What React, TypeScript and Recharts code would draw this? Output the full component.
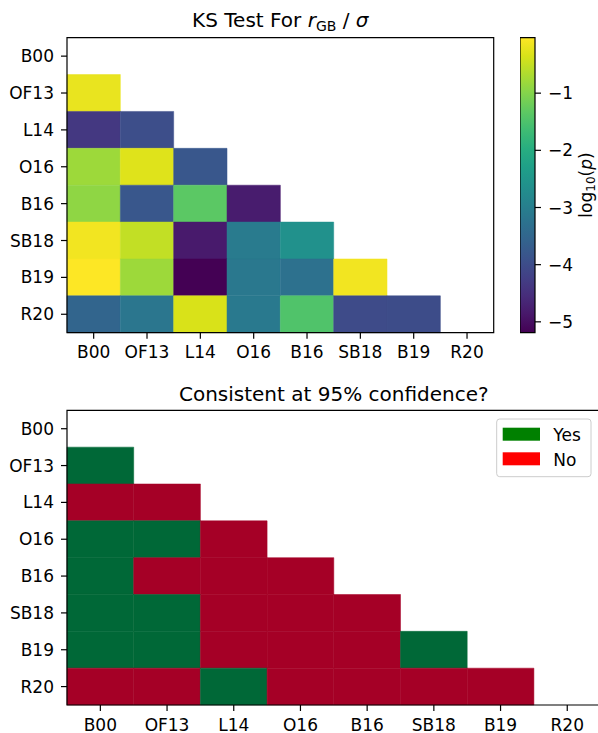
import React from "react";
import { ScatterChart, Scatter, XAxis, YAxis, ReferenceArea } from "recharts";

const labels = ["B00", "OF13", "L14", "O16", "B16", "SB18", "B19", "R20"];

// log10(p) values, lower triangle, row i vs column j (j < i)
const logP: number[][] = [
  [],
  [-0.2],
  [-4.36, -3.98],
  [-0.8, -0.29, -3.8],
  [-0.91, -3.8, -1.35, -4.8],
  [-0.13, -0.52, -4.83, -3.07, -2.61],
  [-0.03, -0.8, -5.19, -3.13, -3.28, -0.13],
  [-3.54, -3.18, -0.34, -3.12, -1.47, -4.03, -4.0],
];

// consistent at 95% confidence? 1 = Yes, 0 = No
const consistent: number[][] = [
  [],
  [1],
  [0, 0],
  [1, 1, 0],
  [1, 0, 0, 0],
  [1, 1, 0, 0, 0],
  [1, 1, 0, 0, 0, 1],
  [0, 0, 1, 0, 0, 0, 0],
];

const cbTicks = [-5, -4, -3, -2, -1];
const cbMin = -5.19;
const cbMax = -0.03;

const legendItems = [
  { label: "Yes", color: "#008000" },
  { label: "No", color: "#ff0000" },
];

const yesColor = "#006837";
const noColor = "#a50026";

const VIRIDIS = [
  "#440154", "#48186a", "#472d7b", "#424086", "#3b528b", "#33638d", "#2c728e", "#26828e",
  "#21918c", "#1fa088", "#28ae80", "#3fbc73", "#5ec962", "#84d44b", "#addc30", "#d8e219", "#fde725",
];

function hexToRgb(h: string) {
  return [parseInt(h.slice(1, 3), 16), parseInt(h.slice(3, 5), 16), parseInt(h.slice(5, 7), 16)];
}
function viridis(t: number) {
  const c = Math.max(0, Math.min(1, t)) * (VIRIDIS.length - 1);
  const i = Math.min(Math.floor(c), VIRIDIS.length - 2);
  const f = c - i;
  const a = hexToRgb(VIRIDIS[i]);
  const b = hexToRgb(VIRIDIS[i + 1]);
  const r = a.map((v, k) => Math.round(v + (b[k] - v) * f));
  return `rgb(${r[0]},${r[1]},${r[2]})`;
}

const idx = labels.map((_, i) => i);

const ksCells = logP.flatMap((row, i) => row.map((v, j) => ({ x: j, y: i, v })));
const consCells = consistent.flatMap((row, i) => row.map((v, j) => ({ x: j, y: i, v })));

const FONT = "'DejaVu Sans', sans-serif";
const tickStyle = { fill: "#000", fontSize: 17, fontFamily: FONT };

function App() {
  return (
    <div style={{ position: "relative", width: 598, height: 733, overflow: "hidden", background: "#fff", fontFamily: FONT }}>
      <style>{"body{margin:0;overflow:hidden}"}</style>

      {/* Top heatmap */}
      <div style={{ position: "absolute", left: 0, top: 0 }}>
        <ScatterChart width={510} height={370} margin={{ top: 37.7, right: 16.3, bottom: 0, left: 0 }}>
          <XAxis
            type="number"
            dataKey="x"
            domain={[-0.5, 7.5]}
            allowDataOverflow
            ticks={idx}
            interval={0}
            tickFormatter={(v: number) => labels[v]}
            height={37.3}
            tickSize={6}
            tickMargin={7}
            tick={tickStyle}
            axisLine={false}
            tickLine={{ stroke: "#000", strokeWidth: 1.2 }}
          />
          <YAxis
            type="number"
            dataKey="y"
            domain={[-0.5, 7.5]}
            allowDataOverflow
            reversed
            ticks={idx}
            interval={0}
            tickFormatter={(v: number) => labels[v]}
            width={67}
            tickSize={6}
            tickMargin={7}
            tick={tickStyle}
            axisLine={false}
            tickLine={{ stroke: "#000", strokeWidth: 1.2 }}
          />
          {ksCells.map((c) => {
            const col = viridis((c.v - cbMin) / (cbMax - cbMin));
            return (
              <ReferenceArea
                key={`k${c.x}-${c.y}`}
                x1={c.x - 0.5}
                x2={c.x + 0.5}
                y1={c.y - 0.5}
                y2={c.y + 0.5}
                fill={col}
                fillOpacity={1}
                stroke={col}
                strokeWidth={0.5}
              />
            );
          })}
          <ReferenceArea x1={-0.5} x2={7.5} y1={-0.5} y2={7.5} fill="none" fillOpacity={0} stroke="#000" strokeWidth={1.2} />
          <Scatter data={ksCells} isAnimationActive={false} shape={() => <g />} />
        </ScatterChart>
      </div>

      {/* Colorbar */}
      <div style={{ position: "absolute", left: 520, top: 0 }}>
        <ScatterChart width={75} height={370} margin={{ top: 37.7, right: 0, bottom: 37.3, left: 0 }}>
          <defs>
            <linearGradient id="viridisGrad" x1="0" y1="1" x2="0" y2="0">
              {VIRIDIS.map((c, i) => (
                <stop key={i} offset={`${(i / (VIRIDIS.length - 1)) * 100}%`} stopColor={c} />
              ))}
            </linearGradient>
          </defs>
          <XAxis type="number" dataKey="x" domain={[0, 1]} hide allowDataOverflow />
          <YAxis
            type="number"
            dataKey="y"
            orientation="right"
            domain={[cbMin, cbMax]}
            allowDataOverflow
            ticks={cbTicks}
            interval={0}
            tickFormatter={(v: number) => `\u2212${Math.abs(v)}`}
            width={60}
            tickSize={6}
            tickMargin={7}
            tick={tickStyle}
            axisLine={false}
            tickLine={{ stroke: "#000", strokeWidth: 1.2 }}
          />
          <ReferenceArea x1={0} x2={1} y1={cbMin} y2={cbMax} fill="url(#viridisGrad)" fillOpacity={1} stroke="#000" strokeWidth={1.2} />
          <Scatter data={cbTicks.map((t) => ({ x: 0.5, y: t }))} isAnimationActive={false} shape={() => <g />} />
        </ScatterChart>
      </div>

      {/* Bottom heatmap */}
      <div style={{ position: "absolute", left: 0, top: 380 }}>
        <ScatterChart width={620} height={353} margin={{ top: 30.3, right: 19.4, bottom: 0, left: 0 }}>
          <XAxis
            type="number"
            dataKey="x"
            domain={[-0.5, 7.5]}
            allowDataOverflow
            ticks={idx}
            interval={0}
            tickFormatter={(v: number) => labels[v]}
            height={28}
            tickSize={6}
            tickMargin={7.5}
            tick={tickStyle}
            axisLine={false}
            tickLine={{ stroke: "#000", strokeWidth: 1.2 }}
          />
          <YAxis
            type="number"
            dataKey="y"
            domain={[-0.5, 7.5]}
            allowDataOverflow
            reversed
            ticks={idx}
            interval={0}
            tickFormatter={(v: number) => labels[v]}
            width={67}
            tickSize={6}
            tickMargin={7}
            tick={tickStyle}
            axisLine={false}
            tickLine={{ stroke: "#000", strokeWidth: 1.2 }}
          />
          {consCells.map((c) => {
            const col = c.v ? yesColor : noColor;
            return (
              <ReferenceArea
                key={`c${c.x}-${c.y}`}
                x1={c.x - 0.5}
                x2={c.x + 0.5}
                y1={c.y - 0.5}
                y2={c.y + 0.5}
                fill={col}
                fillOpacity={1}
                stroke={col}
                strokeWidth={0.5}
              />
            );
          })}
          <ReferenceArea x1={-0.5} x2={7.5} y1={-0.5} y2={7.5} fill="none" fillOpacity={0} stroke="#000" strokeWidth={1.2} />
          <Scatter data={consCells} isAnimationActive={false} shape={() => <g />} />
        </ScatterChart>
      </div>

      {/* Titles, colorbar label, legend */}
      <svg
        width={598}
        height={733}
        style={{ position: "absolute", left: 0, top: 0, pointerEvents: "none" }}
        fontFamily={FONT}
      >
        <text x={280.3} y={26.7} textAnchor="middle" fontSize={20} fill="#000">
          <tspan>KS Test For </tspan>
          <tspan fontStyle="italic">r</tspan>
          <tspan fontSize={14} dy={4}>GB</tspan>
          <tspan dy={-4}> / </tspan>
          <tspan fontStyle="italic">σ</tspan>
        </text>
        <text x={333.8} y={400.7} textAnchor="middle" fontSize={20} fill="#000">
          Consistent at 95% confidence?
        </text>
        <text transform="translate(592,185) rotate(-90)" textAnchor="middle" fontSize={17} fill="#000">
          <tspan>log</tspan>
          <tspan fontSize={12} dy={3}>10</tspan>
          <tspan dy={-3}>(</tspan>
          <tspan fontStyle="italic">p</tspan>
          <tspan>)</tspan>
        </text>
        <g>
          <rect x={496.7} y={419} width={94.3} height={57.7} rx={3} fill="#fff" fillOpacity={0.8} stroke="#cccccc" strokeWidth={1} />
          {legendItems.map((it, i) => (
            <g key={it.label}>
              <rect x={502.7} y={427.7 + i * 24.6} width={37.3} height={13} fill={it.color} />
              <text x={553.3} y={440.7 + i * 25.3} fontSize={17} fill="#000">
                {it.label}
              </text>
            </g>
          ))}
        </g>
      </svg>
    </div>
  );
}

export default App;
